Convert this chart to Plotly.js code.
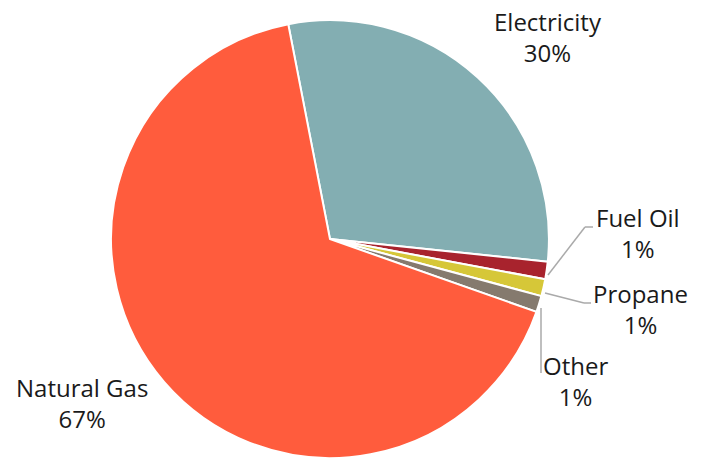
<!DOCTYPE html>
<html>
<head>
<meta charset="utf-8">
<script src="https://cdn.plot.ly/plotly-3.0.1.min.js"></script>
<style>html,body{margin:0;padding:0;background:#fff;}#chart{width:704px;height:458px;}</style>
</head>
<body>
<div id="chart"></div>
<script>
// Data
var categories = ["Electricity", "Fuel Oil", "Propane", "Other", "Natural Gas"];
var shares = [29.7, 1.3, 1.25, 1.2, 66.55];
var shareLabels = ["30%", "1%", "1%", "1%", "67%"];
var sliceColors = ["#83AEB2", "#A8232D", "#D6C738", "#857A6E", "#FF5C3D"];

var W = 704, H = 458;
function px(x) { return x / W; }
function py(y) { return 1 - y / H; }

// label anchor positions (pixels) — layout only
var labelPos = {
  "Electricity": [548, 37],
  "Fuel Oil": [638, 233],
  "Propane": [640, 309],
  "Other": [575, 381],
  "Natural Gas": [82, 403]
};

var annotations = categories.map(function (c, i) {
  var p = labelPos[c];
  return {
    xref: "paper", yref: "paper",
    x: px(p[0]), y: py(p[1]),
    xanchor: "center", yanchor: "middle",
    text: c + "<br>" + shareLabels[i],
    showarrow: false,
    align: "center",
    font: {family: "'Open Sans', sans-serif", size: 24, color: "#1a1a1a"}
  };
});

var leaderLines = [
  [[548, 275], [585, 227], [593, 227]],
  [[545, 293], [584, 303], [591, 303]],
  [[541, 308], [541, 373]]
];
var shapes = [];
leaderLines.forEach(function (pts) {
  for (var k = 0; k < pts.length - 1; k++) {
    shapes.push({
      type: "line", xref: "paper", yref: "paper",
      x0: px(pts[k][0]), y0: py(pts[k][1]),
      x1: px(pts[k + 1][0]), y1: py(pts[k + 1][1]),
      line: {color: "#AAAAAA", width: 1.5}
    });
  }
});

var trace = {
  type: "pie",
  labels: categories,
  values: shares,
  sort: false,
  direction: "clockwise",
  rotation: -11,
  marker: {colors: sliceColors, line: {color: "#ffffff", width: 2}},
  textinfo: "none",
  hoverinfo: "label+percent",
  domain: {x: [0.1577, 0.7798], y: [0, 0.956]}
};

var layout = {
  width: W, height: H,
  margin: {l: 0, r: 0, t: 0, b: 0},
  paper_bgcolor: "#ffffff",
  showlegend: false,
  annotations: annotations,
  shapes: shapes
};

Plotly.newPlot("chart", [trace], layout, {displayModeBar: false, staticPlot: true});
</script>
</body>
</html>
